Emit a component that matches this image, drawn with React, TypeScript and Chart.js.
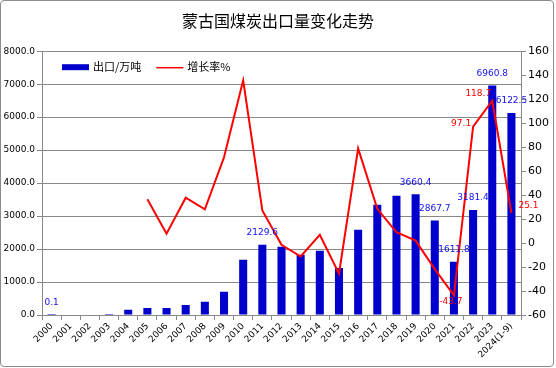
import React, { useEffect, useRef } from 'react';
import { Chart, registerables } from 'chart.js';

Chart.register(...registerables);

if (typeof document !== 'undefined') {
  document.body.style.margin = '0';
}

const TITLE = '蒙古国煤炭出口量变化走势';
const seriesNames = ['出口/万吨', '增长率%'];

const categories = [
  '2000', '2001', '2002', '2003', '2004', '2005', '2006', '2007', '2008', '2009',
  '2010', '2011', '2012', '2013', '2014', '2015', '2016', '2017', '2018', '2019',
  '2020', '2021', '2022', '2023', '2024(1-9)',
];

const exportVolume = [
  0.1, 0, 0, 30, 162, 212, 212, 303, 404, 708,
  1672, 2129.6, 2070, 1828, 1949, 1424, 2586, 3343, 3616, 3660.4,
  2867.7, 1611.8, 3181.4, 6960.8, 6122.5,
];

const growthRate: (number | null)[] = [
  null, null, null, null, null, 36.5, 7.8, 37.8, 28.1, 71.5,
  135.7, 27.2, -1.5, -11.2, 6.8, -25.6, 79, 28.6, 9, 2,
  -21.7, -43.7, 97.1, 118.7, 25.1,
];

const leftTicks = { min: 0, max: 8000, step: 1000 };
const rightTicks = { min: -60, max: 160, step: 20 };

const exportLabelIdx = [0, 11, 19, 20, 21, 22, 23, 24];
const growthLabelIdx = [21, 22, 23, 24];

const growthLabelOffset: Record<number, [number, number]> = {
  21: [-3, 6],
  22: [-12, -3],
  23: [-14, -7],
  24: [17, -7],
};

const BAR_COLOR = '#0000CC';
const LINE_COLOR = '#FF0000';
const GRID = '#888888';
const TXT = '#000000';

const valueLabels = {
  id: 'valueLabels',
  afterDatasetsDraw(chart: any) {
    const ctx = chart.ctx;
    ctx.save();
    ctx.font = '9px "DejaVu Sans"';
    ctx.textAlign = 'center';
    ctx.textBaseline = 'middle';
    const barMeta = chart.getDatasetMeta(0);
    ctx.fillStyle = '#1010F0';
    exportLabelIdx.forEach((i) => {
      const el = barMeta.data[i];
      ctx.fillText(exportVolume[i].toFixed(1), el.x, el.y - 12);
    });
    const lineMeta = chart.getDatasetMeta(1);
    ctx.fillStyle = '#FF0000';
    growthLabelIdx.forEach((i) => {
      const el = lineMeta.data[i];
      const v = growthRate[i];
      if (v == null) return;
      const [dx, dy] = growthLabelOffset[i] || [0, -10];
      ctx.fillText(v.toFixed(1), el.x + dx, el.y + dy);
    });
    ctx.restore();
  },
};

const innerLegend = {
  id: 'innerLegend',
  afterDraw(chart: any) {
    const ctx = chart.ctx;
    const a = chart.chartArea;
    const y = a.top + 16;
    let x = a.left + 20;
    ctx.save();
    ctx.font = '11px "Noto Sans CJK SC"';
    ctx.textBaseline = 'middle';
    ctx.textAlign = 'left';
    ctx.fillStyle = BAR_COLOR;
    ctx.fillRect(x, y - 3, 27, 6);
    x += 31;
    ctx.fillStyle = TXT;
    ctx.fillText(seriesNames[0], x, y);
    x += ctx.measureText(seriesNames[0]).width + 15;
    ctx.strokeStyle = LINE_COLOR;
    ctx.lineWidth = 1.5;
    ctx.beginPath();
    ctx.moveTo(x, y + 0.5);
    ctx.lineTo(x + 27, y + 0.5);
    ctx.stroke();
    x += 31;
    ctx.fillStyle = TXT;
    ctx.fillText(seriesNames[1], x, y);
    ctx.restore();
  },
};

export default function App() {
  const ref = useRef<HTMLCanvasElement | null>(null);

  useEffect(() => {
    if (!ref.current) return;
    const chart = new Chart(ref.current, {
      type: 'bar',
      data: {
        labels: categories,
        datasets: [
          {
            type: 'bar',
            label: seriesNames[0],
            data: exportVolume,
            backgroundColor: BAR_COLOR,
            borderWidth: 0,
            barPercentage: 0.42,
            categoryPercentage: 1,
            yAxisID: 'y',
            order: 2,
          },
          {
            type: 'line',
            label: seriesNames[1],
            data: growthRate,
            borderColor: LINE_COLOR,
            backgroundColor: LINE_COLOR,
            borderWidth: 2,
            pointRadius: 0,
            tension: 0,
            spanGaps: false,
            yAxisID: 'y1',
            order: 1,
          },
        ],
      },
      options: {
        animation: false,
        responsive: false,
        maintainAspectRatio: false,
        layout: { padding: 0 },
        plugins: {
          legend: { display: false },
          tooltip: { enabled: false },
          title: {
            display: true,
            text: TITLE,
            color: TXT,
            font: { family: '"Noto Sans CJK SC"', size: 16, weight: 'normal' },
            padding: { top: 11, bottom: 21 },
          },
        },
        scales: {
          x: {
            offset: true,
            grid: {
              offset: true,
              drawOnChartArea: false,
              drawTicks: true,
              tickLength: 5,
              color: GRID,
              tickColor: GRID,
            },
            border: { display: true, color: GRID },
            ticks: {
              autoSkip: false,
              minRotation: 45,
              maxRotation: 45,
              padding: 1,
              color: TXT,
              font: { family: '"DejaVu Sans"', size: 9 },
            },
            afterFit: (s: any) => {
              s.height = 53;
            },
          },
          y: {
            position: 'left',
            min: leftTicks.min,
            max: leftTicks.max,
            ticks: {
              stepSize: leftTicks.step,
              padding: 2,
              color: TXT,
              font: { family: '"DejaVu Sans"', size: 9 },
              callback: (v: any) => Number(v).toFixed(1),
            },
            grid: { color: GRID, tickColor: GRID, tickLength: 5, drawTicks: true },
            border: { display: true, color: GRID },
            afterFit: (s: any) => {
              s.width = 42;
            },
          },
          y1: {
            position: 'right',
            min: rightTicks.min,
            max: rightTicks.max,
            ticks: {
              stepSize: rightTicks.step,
              padding: 2,
              color: TXT,
              font: { family: '"DejaVu Sans"', size: 11 },
            },
            grid: { drawOnChartArea: false, tickColor: GRID, tickLength: 5, drawTicks: true },
            border: { display: true, color: GRID },
            afterFit: (s: any) => {
              s.width = 35;
            },
          },
        },
      },
      plugins: [valueLabels, innerLegend],
    } as any);
    return () => chart.destroy();
  }, []);

  return (
    <div style={{ position: 'relative', width: 556, height: 368, background: '#fff' }}>
      <canvas ref={ref} width={556} height={368} style={{ display: 'block', width: 556, height: 368 }} />
      <div
        style={{
          position: 'absolute',
          left: 0,
          top: 0,
          width: 554,
          height: 367,
          boxSizing: 'border-box',
          border: '1px solid #8c8c8c',
          borderRadius: 4,
          pointerEvents: 'none',
        }}
      />
    </div>
  );
}
